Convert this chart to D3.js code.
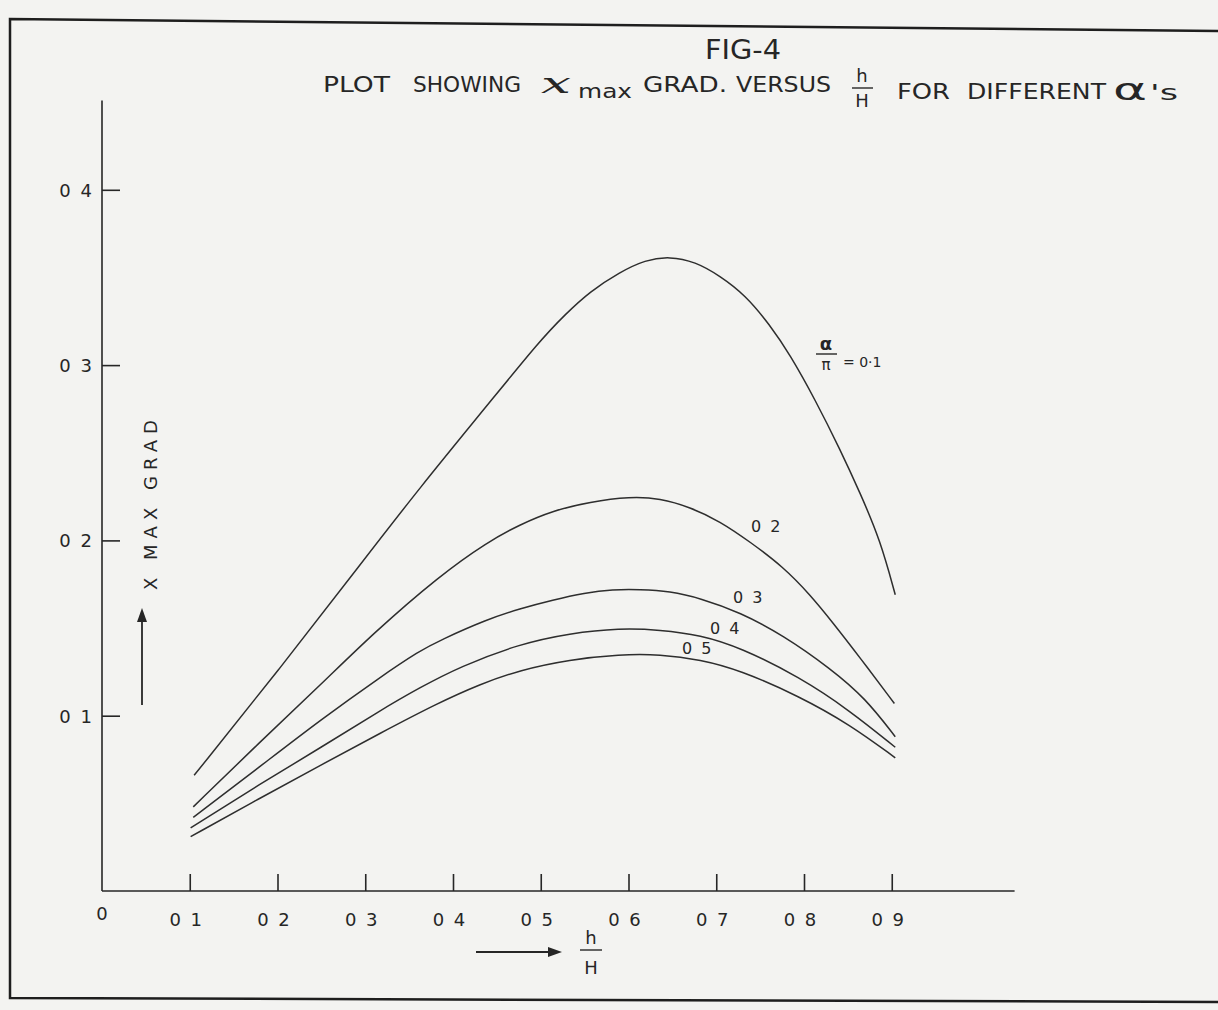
<!DOCTYPE html>
<html>
<head>
<meta charset="utf-8">
<script src="https://cdn.jsdelivr.net/npm/d3@7"></script>
<style>
  body { margin: 0; background: #f3f3f1; }
  svg { display: block; }
  text { font-family: "DejaVu Sans", sans-serif; fill: #262626; }
</style>
</head>
<body>
<script>
var svgWidth = 1218;
var svgHeight = 1010;

// h/H tick values and their labels
var xTicks = [0.1, 0.2, 0.3, 0.4, 0.5, 0.6, 0.7, 0.8, 0.9];
var xTickLabels = ["0 1", "0 2", "0 3", "0 4", "0 5", "0 6", "0 7", "0 8", "0 9"];
var yTicks = [0.1, 0.2, 0.3, 0.4];
var yTickLabels = ["0 1", "0 2", "0 3", "0 4"];

// alpha/pi values, one curve each
var alphaLabels = ["0.1", "0.2", "0.3", "0.4", "0.5"];

// [h/H, x max grad]
var curveA1 = [[0.105, 0.066], [0.203, 0.127], [0.297, 0.188], [0.362, 0.230], [0.439, 0.277], [0.499, 0.314],
               [0.528, 0.329], [0.556, 0.342], [0.590, 0.353], [0.619, 0.360], [0.647, 0.362], [0.676, 0.359],
               [0.704, 0.351], [0.733, 0.340], [0.761, 0.323], [0.784, 0.306], [0.813, 0.280], [0.841, 0.252],
               [0.864, 0.227], [0.887, 0.200], [0.904, 0.169]];
var curveA2 = [[0.104, 0.048], [0.180, 0.085], [0.250, 0.118], [0.309, 0.147], [0.385, 0.180], [0.439, 0.199],
               [0.476, 0.209], [0.514, 0.217], [0.556, 0.222], [0.602, 0.225], [0.636, 0.224], [0.670, 0.219],
               [0.704, 0.211], [0.739, 0.199], [0.776, 0.185], [0.807, 0.169], [0.833, 0.153], [0.864, 0.133],
               [0.903, 0.107]];
var curveA3 = [[0.104, 0.042], [0.180, 0.071], [0.250, 0.098], [0.317, 0.122], [0.362, 0.137], [0.385, 0.143],
               [0.439, 0.155], [0.476, 0.161], [0.514, 0.166], [0.550, 0.170], [0.582, 0.172], [0.613, 0.172],
               [0.647, 0.171], [0.682, 0.167], [0.727, 0.159], [0.776, 0.146], [0.830, 0.127], [0.870, 0.110],
               [0.904, 0.088]];
var curveA4 = [[0.101, 0.036], [0.180, 0.061], [0.250, 0.082], [0.317, 0.103], [0.362, 0.116], [0.408, 0.128],
               [0.476, 0.141], [0.533, 0.147], [0.590, 0.150], [0.636, 0.149], [0.682, 0.146], [0.727, 0.139],
               [0.795, 0.122], [0.852, 0.103], [0.904, 0.082]];
var curveA5 = [[0.101, 0.031], [0.180, 0.053], [0.250, 0.072], [0.317, 0.090], [0.382, 0.107], [0.431, 0.118],
               [0.476, 0.126], [0.533, 0.132], [0.590, 0.135], [0.636, 0.135], [0.682, 0.132], [0.727, 0.126],
               [0.795, 0.111], [0.852, 0.095], [0.904, 0.076]];
var curves = [curveA1, curveA2, curveA3, curveA4, curveA5];

var ink = "#262626";

var svg = d3.select("body").append("svg").attr("width", svgWidth).attr("height", svgHeight);

// sheet border
svg.append("path")
    .attr("d", "M1218,31 L10,19 L10,998 L1218,1002")
    .attr("fill", "none").attr("stroke", "#1e1e1e").attr("stroke-width", 2.5);

var x = d3.scaleLinear().domain([0, 1.04]).range([102, 1014.6]);
var y = d3.scaleLinear().domain([0, 0.451]).range([891, 100.4]);

// axes, ticks pointing inwards
var xAxis = svg.append("g")
    .attr("transform", `translate(0,${y(0)})`)
    .call(d3.axisTop(x).tickValues(xTicks).tickSize(17).tickFormat(""));
xAxis.select(".domain").attr("d", `M${x(0)},0H${x(1.04)}`);
var yAxis = svg.append("g")
    .attr("transform", `translate(${x(0)},0)`)
    .call(d3.axisRight(y).tickValues(yTicks).tickSize(18).tickFormat(""));
yAxis.select(".domain").attr("d", `M0,${y(0)}V${y(0.451)}`);
svg.selectAll(".domain, .tick line").attr("stroke", ink).attr("stroke-width", 1.6);

svg.append("g").selectAll("text")
    .data(xTicks).enter().append("text")
    .attr("x", d => x(d) - 3)
    .attr("y", 926)
    .attr("text-anchor", "middle")
    .attr("font-size", 18)
    .attr("letter-spacing", 2)
    .text((d, i) => xTickLabels[i]);
svg.append("text").attr("x", x(0)).attr("y", 920).attr("text-anchor", "middle")
    .attr("font-size", 18).text("0");

svg.append("g").selectAll("text")
    .data(yTicks).enter().append("text")
    .attr("x", 94)
    .attr("y", d => y(d) + 7)
    .attr("text-anchor", "end")
    .attr("font-size", 18)
    .attr("letter-spacing", 2)
    .text((d, i) => yTickLabels[i]);

// curves
var line = d3.line()
    .x(d => x(d[0]))
    .y(d => y(d[1]))
    .curve(d3.curveBasis);

svg.append("g").selectAll("path")
    .data(curves).enter().append("path")
    .attr("d", line)
    .attr("fill", "none")
    .attr("stroke", "#2e2e2e")
    .attr("stroke-width", 1.5);

// curve labels
var g1 = svg.append("g");
g1.append("text").attr("x", 826).attr("y", 350).attr("text-anchor", "middle")
    .attr("font-size", 18).attr("font-weight", "bold").text("α");
g1.append("line").attr("x1", 816).attr("x2", 837).attr("y1", 354).attr("y2", 354)
    .attr("stroke", ink).attr("stroke-width", 1.4);
g1.append("text").attr("x", 826).attr("y", 370).attr("text-anchor", "middle")
    .attr("font-size", 15).text("π");
g1.append("text").attr("x", 843).attr("y", 367).attr("font-size", 14).text("= 0·1");

var labelPos = [null, [751, 532], [733, 603], [710, 634], [682, 654]];
alphaLabels.forEach(function (a, i) {
    if (!labelPos[i]) return;
    svg.append("text")
        .attr("x", labelPos[i][0]).attr("y", labelPos[i][1])
        .attr("font-size", 16).attr("letter-spacing", 2)
        .text(a.replace(".", " "));
});

// title
svg.append("text").attr("x", 705).attr("y", 59).attr("font-size", 26)
    .attr("textLength", 76).attr("lengthAdjust", "spacingAndGlyphs").text("FIG-4");

function titlePart(txt, x0, x1, yb, size, extra) {
    var t = svg.append("text").attr("x", x0).attr("y", yb).attr("font-size", size)
        .attr("textLength", x1 - x0).attr("lengthAdjust", "spacingAndGlyphs").text(txt);
    if (extra) extra(t);
    return t;
}
titlePart("PLOT", 323, 390, 92, 22);
titlePart("SHOWING", 413, 521, 92, 22);
titlePart("x", 541, 571, 93, 28, t => t.style("font-family", "'DejaVu Serif', serif").attr("font-style", "italic"));
titlePart("max", 578, 632, 98, 19);
titlePart("GRAD.", 643, 727, 92, 22);
titlePart("VERSUS", 736, 831, 92, 22);
titlePart("FOR", 897, 950, 99, 22);
titlePart("DIFFERENT", 967, 1106, 99, 22);
titlePart("α", 1113, 1147, 100, 30);
titlePart("'s", 1150, 1178, 100, 22);
svg.append("text").attr("x", 862).attr("y", 82).attr("text-anchor", "middle").attr("font-size", 18).text("h");
svg.append("line").attr("x1", 852).attr("x2", 873).attr("y1", 88).attr("y2", 88).attr("stroke", ink).attr("stroke-width", 1.4);
svg.append("text").attr("x", 862).attr("y", 107).attr("text-anchor", "middle").attr("font-size", 18).text("H");

// y axis label and arrow
svg.append("text")
    .attr("transform", "translate(157,505) rotate(-90)")
    .attr("text-anchor", "middle")
    .attr("font-size", 18)
    .attr("textLength", 170)
    .attr("lengthAdjust", "spacing")
    .text("X MAX GRAD");
svg.append("line").attr("x1", 142).attr("x2", 142).attr("y1", 705).attr("y2", 616)
    .attr("stroke", ink).attr("stroke-width", 1.8);
svg.append("path").attr("d", "M142,608 L137,622 L147,622 Z").attr("fill", ink);

// x axis label and arrow
svg.append("line").attr("x1", 476).attr("x2", 552).attr("y1", 952).attr("y2", 952)
    .attr("stroke", ink).attr("stroke-width", 1.8);
svg.append("path").attr("d", "M562,952 L548,947 L548,957 Z").attr("fill", ink);
svg.append("text").attr("x", 591).attr("y", 944).attr("text-anchor", "middle").attr("font-size", 18).text("h");
svg.append("line").attr("x1", 580).attr("x2", 602).attr("y1", 950).attr("y2", 950).attr("stroke", ink).attr("stroke-width", 1.4);
svg.append("text").attr("x", 591).attr("y", 974).attr("text-anchor", "middle").attr("font-size", 18).text("H");
</script>
</body>
</html>
